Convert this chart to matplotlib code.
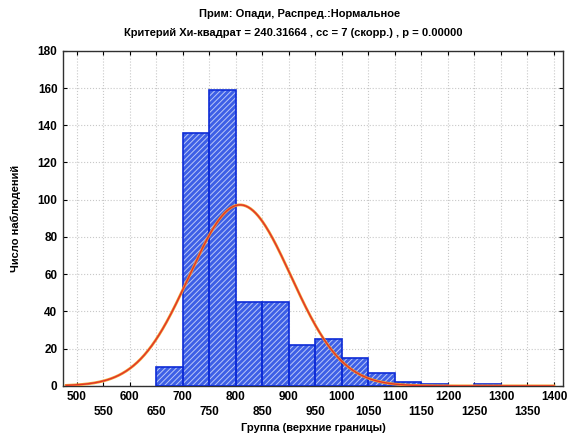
import numpy as np
import matplotlib
matplotlib.use("Agg")
import matplotlib.pyplot as plt

# ── data ──────────────────────────────────────────────────────────────────────
bin_left = [650, 700, 750, 800, 850, 900, 950, 1000, 1050, 1100, 1150, 1200, 1250]
counts   = [10, 136, 159, 45, 45, 22, 25, 15, 7, 2, 1, 0, 1]
bin_width = 50

# fitted normal (parameters estimated from the curve)
fit_mean = 808.0
fit_std  = 96.0
n_obs    = sum(counts)

title1 = "Прим: Опади, Распред.:Нормальное"
title2 = "Критерий Хи-квадрат = 240.31664 , сс = 7 (скорр.) , р = 0.00000"
xlab = "Группа (верхние границы)"
ylab = "Число наблюдений"

plt.rcParams["font.family"] = ["Liberation Sans", "DejaVu Sans"]
plt.rcParams["hatch.linewidth"] = 0.7

fig = plt.figure(figsize=(5.67, 4.38), dpi=100)
ax = fig.add_axes([0.111, 0.119, 0.882, 0.765])

# bars: blue fill with light diagonal hatching, then dark blue outline
ax.bar(bin_left, counts, width=bin_width, align="edge",
       color="#3d5fe6", edgecolor="#b9c6f7", hatch="//////", linewidth=0, zorder=2)
ax.bar(bin_left, counts, width=bin_width, align="edge",
       fill=False, edgecolor="#0d2bd6", linewidth=1.2, zorder=3)

# expected frequencies of the fitted normal
xs = np.linspace(480, 1400, 400)
ys = n_obs * bin_width / (fit_std * np.sqrt(2 * np.pi)) * np.exp(-0.5 * ((xs - fit_mean) / fit_std) ** 2)
ax.plot(xs, ys, color="#f0a030", lw=2.0, zorder=4)
ax.plot(xs, ys, color="#e2322a", lw=1.0, zorder=5)

ax.set_xlim(474, 1417)
ax.set_ylim(0, 180)

xt = np.arange(500, 1401, 50)
ax.set_xticks(xt)
ax.set_xticklabels([str(v) if i % 2 == 0 else "\n" + str(v) for i, v in enumerate(xt)],
                   fontsize=8.5, fontweight="bold", linespacing=1.25)
ax.set_yticks(np.arange(0, 181, 20))
ax.set_yticklabels([str(v) for v in range(0, 181, 20)], fontsize=8.5, fontweight="bold")
ax.tick_params(direction="in", length=3, width=0.8, pad=4)
ax.tick_params(axis="x", top=True)
ax.tick_params(axis="y", right=True)

ax.grid(True, color="#c8c8c8", linestyle=":", linewidth=0.8, zorder=0)
ax.set_axisbelow(True)
for s in ax.spines.values():
    s.set_color("#303030")
    s.set_linewidth(1.0)

ax.set_xlabel(xlab, fontsize=8, fontweight="bold", labelpad=4)
ax.set_ylabel(ylab, fontsize=8, fontweight="bold", labelpad=12)

fig.text(0.528, 0.968, title1, ha="center", va="center", fontsize=8, fontweight="bold")
fig.text(0.517, 0.925, title2, ha="center", va="center", fontsize=8, fontweight="bold")

fig.savefig("out.png", dpi=100)
